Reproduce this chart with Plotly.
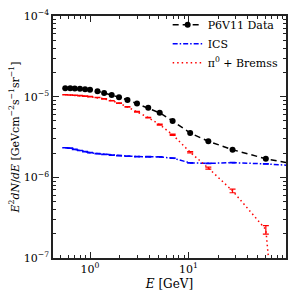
import plotly.graph_objects as go

energy = [0.56, 0.63, 0.70, 0.79, 0.89, 1.0, 1.19, 1.39, 1.66, 1.97, 2.4, 3.0,
          3.9, 5.1, 6.9, 10.4, 15.9, 28.0, 61.0, 130.0]
data_flux = [1.27e-5, 1.27e-5, 1.26e-5, 1.25e-5, 1.24e-5, 1.22e-5, 1.17e-5, 1.11e-5,
             1.05e-5, 9.85e-6, 9.1e-6, 8.2e-6, 7.3e-6, 6.3e-6, 5.0e-6, 3.54e-6,
             2.8e-6, 2.2e-6, 1.7e-6, 1.43e-6]
ics_flux = [2.33e-6, 2.30e-6, 2.22e-6, 2.15e-6, 2.08e-6, 2.02e-6, 1.97e-6, 1.93e-6,
            1.89e-6, 1.86e-6, 1.83e-6, 1.81e-6, 1.80e-6, 1.79e-6, 1.73e-6, 1.51e-6,
            1.49e-6, 1.52e-6, 1.47e-6, 1.38e-6]
ics_err = [1.5e-8, 1.5e-8, 1.5e-8, 1.5e-8, 1.5e-8, 1.5e-8, 1.5e-8, 1.5e-8, 1.5e-8,
           1.5e-8, 1.5e-8, 1.5e-8, 1.5e-8, 1.5e-8, 1.5e-8, 1.5e-8, 1.5e-8, 1.5e-8,
           1.5e-8, 0]
pi0_flux = [1.056e-5, 1.05e-5, 1.04e-5, 1.03e-5, 1.015e-5, 1.0e-5, 9.75e-6, 9.4e-6,
            8.9e-6, 8.3e-6, 7.45e-6, 6.5e-6, 5.5e-6, 4.5e-6, 3.37e-6, 2.05e-6,
            1.3e-6, 6.8e-7, 2.25e-7, 1e-11]
pi0_err = [6e-8, 6e-8, 6e-8, 6e-8, 6e-8, 6e-8, 6e-8, 6e-8, 6e-8, 6e-8, 6e-8, 6e-8,
           6e-8, 6e-8, 6e-8, 4e-8, 3.5e-8, 3.6e-8, 2.7e-8, 0]

x_ticks = [1, 10, 100]
x_ticktext = ["10<sup>0</sup>", "10<sup>1</sup>", "10<sup>2</sup>"]
y_ticks = [1e-7, 1e-6, 1e-5, 1e-4]
y_ticktext = ["10<sup>−7</sup>", "10<sup>−6</sup>", "10<sup>−5</sup>", "10<sup>−4</sup>"]

font = "DejaVu Serif"

fig = go.Figure()
fig.add_trace(go.Scatter(
    x=energy, y=data_flux, name="P6V11 Data", mode="lines+markers",
    line=dict(color="black", width=1.5, dash="6px,4px"),
    marker=dict(color="black", size=6, symbol="circle"),
))
fig.add_trace(go.Scatter(
    x=energy, y=ics_flux, name="ICS", mode="lines",
    line=dict(color="#0000ff", width=1.5, dash="5px,2px,1.5px,2px"),
    error_y=dict(type="data", array=ics_err, color="#0000ff", thickness=1.2, width=3),
))
fig.add_trace(go.Scatter(
    x=energy, y=pi0_flux, name="π<sup>0</sup> + Bremss", mode="lines",
    line=dict(color="#ff0000", width=1.5, dash="1.5px,3px"),
    error_y=dict(type="data", array=pi0_err, color="#ff0000", thickness=1.2, width=3),
))

minor_x = [k * 10 ** n for n in range(-1, 2) for k in range(2, 10)]
minor_y = [k * 10 ** n for n in range(-8, -4) for k in range(2, 10)]

axis_common = dict(
    type="log", showgrid=False, zeroline=False, automargin=False,
    showline=True, linecolor="#222", linewidth=1.5, mirror="allticks",
    ticks="inside", ticklen=6, tickwidth=1, tickcolor="#222",
    tickfont=dict(family=font, size=11, color="black"),
)

fig.update_xaxes(
    **axis_common,
    range=[-0.376, 1.99],
    tickmode="array", tickvals=x_ticks, ticktext=x_ticktext,
    minor=dict(tickmode="array", tickvals=minor_x, ticks="inside", ticklen=3,
               tickcolor="#222", showgrid=False),
    title=dict(text="<i>E</i> [GeV]", font=dict(family=font, size=12, color="black"),
               standoff=5),
)
fig.update_yaxes(
    **axis_common,
    range=[-7, -4],
    tickmode="array", tickvals=y_ticks, ticktext=y_ticktext,
    minor=dict(tickmode="array", tickvals=minor_y, ticks="inside", ticklen=3,
               tickcolor="#222", showgrid=False),
    title=dict(text="<i>E</i><sup>2</sup><i>dN</i>/<i>dE</i> [GeVcm<sup>−2</sup>s<sup>−1</sup>sr<sup>−1</sup>]",
               font=dict(family=font, size=11, color="black"), standoff=2),
)

fig.update_layout(
    width=300, height=300,
    margin=dict(l=53, r=14, t=10, b=42),
    paper_bgcolor="white", plot_bgcolor="white",
    showlegend=True,
    legend=dict(x=0.99, y=1.024, xanchor="right", yanchor="top",
                bgcolor="rgba(0,0,0,0)", font=dict(family=font, size=11, color="black"),
                itemwidth=30, tracegroupgap=0),
)

fig.write_html("out.html", config={"displayModeBar": False},
               post_script="document.body.style.margin='0';")
